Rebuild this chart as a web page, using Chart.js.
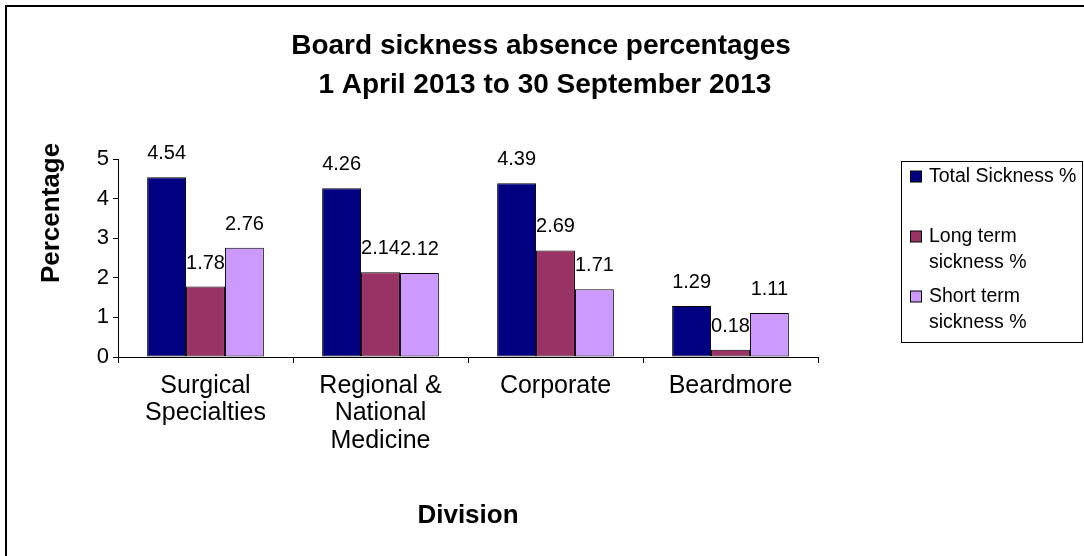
<!DOCTYPE html>
<html>
<head>
<meta charset="utf-8">
<script src="https://cdn.jsdelivr.net/npm/chart.js@4.4.0/dist/chart.umd.min.js"></script>
<style>
  html, body { margin: 0; padding: 0; background: #ffffff; }
  #wrap { position: relative; width: 1084px; height: 556px; }
</style>
</head>
<body>
<div id="wrap"><canvas id="chart" width="1084" height="556"></canvas></div>
<script>
// Divisions shown along the x axis (multi-line labels)
const categories = [
  ['Surgical', 'Specialties'],
  ['Regional &', 'National', 'Medicine'],
  'Corporate',
  'Beardmore'
];

// Series names
const seriesNames = ['Total Sickness %', 'Long term sickness %', 'Short term sickness %'];

// Sickness absence values (%) per division
const totalSickness = [4.54, 4.26, 4.39, 1.29];
const longTermSickness = [1.78, 2.14, 2.69, 0.18];
const shortTermSickness = [2.76, 2.12, 1.71, 1.11];

// Value axis ticks
const yTicks = [0, 1, 2, 3, 4, 5];

const titleLines = ['Board sickness absence percentages', ' 1 April 2013 to 30 September 2013'];
const xAxisTitle = 'Division';
const yAxisTitle = 'Percentage';

const seriesColors = ['#000080', '#993366', '#CC99FF'];
const FONT = "'Liberation Sans', Arial, Helvetica, sans-serif";

// Frame, titles, value labels and the boxed legend on the right
const decorations = {
  id: 'decorations',
  afterDraw(chart) {
    const ctx = chart.ctx;
    ctx.save();

    // outer frame
    ctx.strokeStyle = '#000';
    ctx.lineWidth = 2;
    ctx.beginPath();
    ctx.moveTo(6, 560);
    ctx.lineTo(6, 6);
    ctx.lineTo(1090, 6);
    ctx.stroke();

    // chart title
    ctx.fillStyle = '#000';
    ctx.textAlign = 'center';
    ctx.textBaseline = 'alphabetic';
    ctx.font = 'bold 28px ' + FONT;
    ctx.fillText(titleLines[0], 541, 54);
    ctx.fillText(titleLines[1], 541, 93);

    // value axis title, rotated
    ctx.save();
    ctx.translate(52, 213);
    ctx.rotate(-Math.PI / 2);
    ctx.textBaseline = 'middle';
    ctx.font = 'bold 26px ' + FONT;
    ctx.fillText(yAxisTitle, 0, 0);
    ctx.restore();

    // value labels above each bar
    ctx.font = '20px ' + FONT;
    ctx.textAlign = 'center';
    ctx.textBaseline = 'alphabetic';
    chart.data.datasets.forEach((ds, di) => {
      const meta = chart.getDatasetMeta(di);
      meta.data.forEach((bar, i) => {
        ctx.fillText(ds.data[i].toFixed(2), bar.x, bar.y - 18);
      });
    });

    // legend
    const box = { x: 901.5, y: 161.5, w: 181, h: 181 };
    ctx.lineWidth = 1;
    ctx.strokeStyle = '#000';
    ctx.strokeRect(box.x, box.y, box.w, box.h);
    ctx.font = '19.5px ' + FONT;
    ctx.textAlign = 'left';
    ctx.textBaseline = 'middle';
    const textX = 929;
    const maxW = box.x + box.w - textX;
    chart.data.datasets.forEach((ds, di) => {
      const words = ds.label.split(' ');
      const lines = [];
      let cur = '';
      words.forEach(w => {
        const test = cur ? cur + ' ' + w : w;
        if (cur && ctx.measureText(test).width > maxW) { lines.push(cur); cur = w; }
        else cur = test;
      });
      if (cur) lines.push(cur);
      const y0 = 177 + di * 60;
      ctx.fillStyle = ds.backgroundColor;
      ctx.fillRect(910.5, y0 - 6, 11, 11);
      ctx.strokeRect(910.5, y0 - 6, 11, 11);
      ctx.fillStyle = '#000';
      lines.forEach((ln, li) => ctx.fillText(ln, textX, y0 + li * 26));
    });

    ctx.restore();
  }
};

new Chart(document.getElementById('chart'), {
  type: 'bar',
  data: {
    labels: categories,
    datasets: [
      { label: seriesNames[0], data: totalSickness, backgroundColor: seriesColors[0] },
      { label: seriesNames[1], data: longTermSickness, backgroundColor: seriesColors[1] },
      { label: seriesNames[2], data: shortTermSickness, backgroundColor: seriesColors[2] }
    ].map(d => Object.assign(d, {
      borderColor: '#000',
      borderWidth: 1,
      borderSkipped: false,
      categoryPercentage: 0.667,
      barPercentage: 1
    }))
  },
  options: {
    responsive: false,
    animation: false,
    devicePixelRatio: 1,
    layout: { padding: { left: 0, top: 159, right: 266, bottom: 0 } },
    plugins: {
      legend: { display: false },
      title: { display: false },
      tooltip: { enabled: false }
    },
    scales: {
      x: {
        grid: {
          display: true,
          offset: true,
          drawOnChartArea: false,
          drawTicks: true,
          tickLength: 6,
          color: '#000'
        },
        border: { display: true, color: '#000', width: 1 },
        ticks: {
          color: '#000',
          font: { family: FONT, size: 25, lineHeight: 1.1 },
          padding: 9,
          maxRotation: 0,
          autoSkip: false
        },
        title: {
          display: true,
          text: xAxisTitle,
          color: '#000',
          font: { family: FONT, size: 26, weight: 'bold', lineHeight: 1.2 },
          padding: { top: 0, bottom: 25 }
        },
        afterFit(scale) { scale.height = 556 - 357; }
      },
      y: {
        min: 0,
        max: 5,
        afterBuildTicks(scale) { scale.ticks = yTicks.map(v => ({ value: v })); },
        grid: {
          display: true,
          drawOnChartArea: false,
          drawTicks: true,
          tickLength: 5,
          color: '#000'
        },
        border: { display: true, color: '#000', width: 1 },
        ticks: {
          color: '#000',
          font: { family: FONT, size: 22 },
          padding: 4
        },
        afterFit(scale) { scale.width = 118; }
      }
    }
  },
  plugins: [decorations]
});
</script>
</body>
</html>
